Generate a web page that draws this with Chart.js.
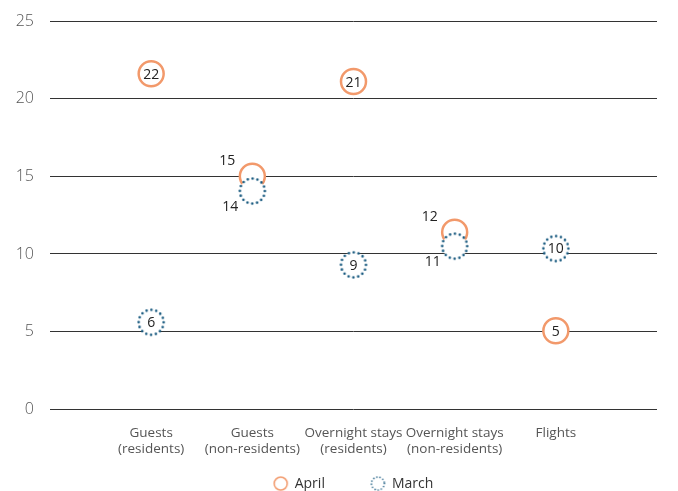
<!DOCTYPE html>
<html>
<head>
<meta charset="utf-8">
<script src="https://cdn.jsdelivr.net/npm/chart.js@4"></script>
<style>
html,body{margin:0;padding:0;background:#fff;}
#wrap{width:678px;height:491px;position:relative;}
</style>
</head>
<body>
<div id="wrap"><canvas id="c"></canvas></div>
<script>
const categories = [["Guests","(residents)"],["Guests","(non-residents)"],["Overnight stays","(residents)"],["Overnight stays","(non-residents)"],["Flights"]];
const aprilValues = [21.6, 15.0, 21.1, 11.4, 5.05];
const marchValues = [5.6, 14.05, 9.3, 10.5, 10.35];
const aprilLabels = ["22","15","21","12","5"];
const marchLabels = ["6","14","9","11","10"];
const yTicks = [0,5,10,15,20,25];

const ORANGE = '#F2996B';
const TEAL = '#17597F';
const LEGEND_PAD = 46;

function dottedCircle(r, lw, gap, color){
  const s = Math.ceil(2*r + lw + 4);
  const cv = document.createElement('canvas');
  cv.width = s; cv.height = s;
  const g = cv.getContext('2d');
  g.beginPath(); g.arc(s/2, s/2, r, 0, Math.PI*2);
  g.fillStyle = '#fff'; g.fill();
  g.setLineDash([0, gap]); g.lineCap = 'round';
  g.lineWidth = lw; g.strokeStyle = color; g.stroke();
  return cv;
}
function solidCircle(r, lw, color){
  const s = Math.ceil(2*r + lw + 4);
  const cv = document.createElement('canvas');
  cv.width = s; cv.height = s;
  const g = cv.getContext('2d');
  g.beginPath(); g.arc(s/2, s/2, r, 0, Math.PI*2);
  g.fillStyle = '#fff'; g.fill();
  g.lineWidth = lw; g.strokeStyle = color; g.stroke();
  return cv;
}
const marchPoint = dottedCircle(12.5, 2.6, 4.9, TEAL);
const marchLegend = dottedCircle(6.5, 1.6, 3.2, TEAL);
const aprilLegend = solidCircle(6.5, 1.5, ORANGE);

const toXY = vals => vals.map((v,i)=>({x:i, y:v}));

const labelPlugin = {
  id: 'valueLabels',
  afterLayout(chart){
    const lg = chart.legend;
    if (!lg) return;
    const ca = chart.chartArea;
    lg.left = ca.left; lg.right = ca.right; lg.width = ca.right - ca.left;
    lg.top = 485 - LEGEND_PAD - 8.4;
    lg.bottom = chart.height;
    lg.height = lg.bottom - lg.top;
  },
  afterDatasetsDraw(chart){
    const ctx = chart.ctx;
    ctx.save();
    ctx.font = '14px "Open Sans", sans-serif';
    ctx.fillStyle = '#222';
    ctx.textAlign = 'center';
    ctx.textBaseline = 'middle';
    const sets = chart.data.datasets;
    sets.forEach((ds, di) => {
      const meta = chart.getDatasetMeta(di);
      const other = sets[1-di];
      meta.data.forEach((el, i) => {
        const v = ds.data[i].y, ov = other.data[i].y;
        const txt = ds.valueLabels[i];
        let x = el.x, y = el.y + 1;
        if (Math.abs(v - ov) < 1.8) {
          if (v > ov) { x = el.x - 25; y = el.y - 15; }
          else { x = el.x - 22; y = el.y + 16; }
        }
        ctx.fillText(txt, x, y);
      });
    });
    ctx.restore();
  }
};

new Chart(document.getElementById('c'), {
  type: 'scatter',
  data: {
    datasets: [
      { label: 'March', data: toXY(marchValues), valueLabels: marchLabels,
        pointStyle: marchPoint, pointRadius: 13, pointHoverRadius: 13,
        legendIcon: marchLegend },
      { label: 'April', data: toXY(aprilValues), valueLabels: aprilLabels,
        pointStyle: 'circle', pointRadius: 12.5, pointHoverRadius: 12.5,
        backgroundColor: '#fff', borderColor: ORANGE, borderWidth: 2.5,
        legendIcon: aprilLegend }
    ]
  },
  options: {
    responsive: true, maintainAspectRatio: false, animation: false,
    layout: { padding: { top: 21, right: 21, left: 0, bottom: 8 } },
    scales: {
      x: {
        type: 'linear', min: -1, max: 5,
        afterBuildTicks(s){ s.ticks = categories.map((c,i)=>({value:i})); },
        grid: { display: false, drawTicks: false },
        border: { display: false },
        ticks: {
          autoSkip: false, maxRotation: 0, padding: 15,
          color: '#555', font: { family: '"Open Sans", sans-serif', size: 13.5, lineHeight: 1.25 },
          callback: v => categories[v] || ''
        }
      },
      y: {
        min: 0, max: 25,
        afterBuildTicks(s){ s.ticks = yTicks.map(v=>({value:v})); },
        afterFit(s){ s.width = 50; s.paddingTop = 0; s.paddingBottom = 0; },
        grid: { color: '#333', lineWidth: 1, drawTicks: false },
        border: { display: false },
        ticks: { padding: 16, color: '#555', font: { family: '"Open Sans", sans-serif', size: 16, weight: 300 } }
      }
    },
    plugins: {
      tooltip: { enabled: false },
      legend: {
        position: 'bottom', reverse: true, maxHeight: 10,
        labels: {
          usePointStyle: true, padding: LEGEND_PAD,
          color: '#333', font: { family: '"Open Sans", sans-serif', size: 14 },
          generateLabels(chart){
            return chart.data.datasets.map((ds, i) => ({
              text: ds.label, pointStyle: ds.legendIcon, datasetIndex: i,
              hidden: false, lineWidth: 0, fillStyle: '#fff', strokeStyle: '#fff', fontColor: '#333'
            }));
          }
        }
      }
    }
  },
  plugins: [labelPlugin]
});
</script>
</body>
</html>
